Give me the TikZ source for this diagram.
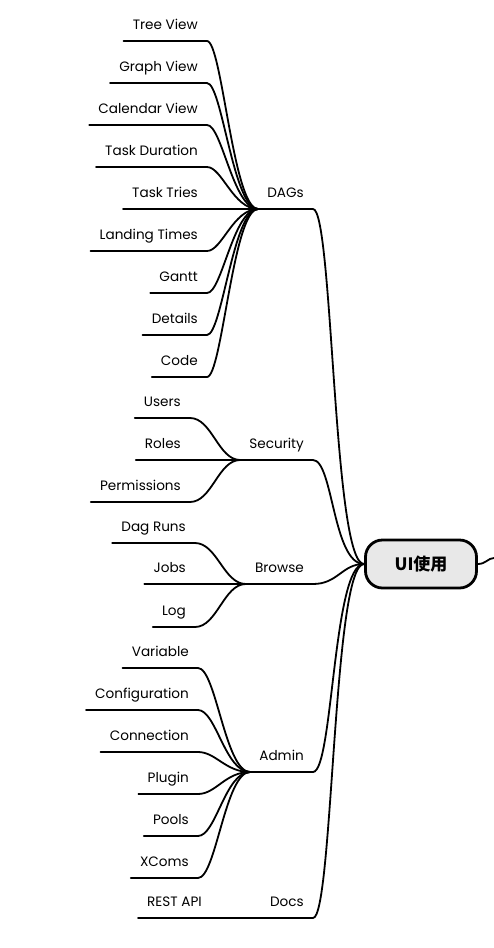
\documentclass[tikz,border=0pt]{standalone}
\usepackage{fontspec}
\setmainfont{Poppins}
\newfontfamily\cjk{Noto Sans CJK SC}
\definecolor{rootgray}{HTML}{E8E8E8}
\begin{document}
\begin{tikzpicture}[x=1pt,y=-1pt,
  every node/.style={font=\fontsize{13.6pt}{16pt}\selectfont},
  lbl/.style={anchor=south east, inner xsep=9pt, inner ysep=8pt, text height=10pt, text depth=3pt},
  uline/.style={line width=1.8pt, line cap=round},
  conn/.style={line width=1.8pt},
  rootbox/.style={draw, line width=2.8pt, fill=rootgray, rounded corners=17pt, minimum width=111pt, minimum height=48pt, inner sep=0pt, font=\fontsize{17pt}{20pt}\selectfont\cjk\bfseries}
]
\useasboundingbox (0,0) rectangle (493,948);
\fill[white] (0,0) rectangle (493,948);

% level-1 nodes
\node[lbl] (dags) at (313,209) {DAGs};
\node[lbl] (sec) at (313,460) {Security};
\node[lbl] (brw) at (313,584) {Browse};
\node[lbl] (adm) at (313,772) {Admin};
\node[lbl] (docs) at (313,918) {Docs};

% DAGs children
\node[lbl] (d1) at (207,41) {Tree View};
\node[lbl] (d2) at (207,83) {Graph View};
\node[lbl] (d3) at (207,125) {Calendar View};
\node[lbl] (d4) at (207,167) {Task Duration};
\node[lbl] (d5) at (207,209) {Task Tries};
\node[lbl] (d6) at (207,251) {Landing Times};
\node[lbl] (d7) at (207,293) {Gantt};
\node[lbl] (d8) at (207,335) {Details};
\node[lbl] (d9) at (207,377) {Code};

% Security children
\node[lbl] (s1) at (190,418) {Users};
\node[lbl] (s2) at (190,460) {Roles};
\node[lbl] (s3) at (190,502) {Permissions};

% Browse children
\node[lbl] (b1) at (195,543) {Dag Runs};
\node[lbl] (b2) at (195,584) {Jobs};
\node[lbl] (b3) at (195,627) {Log};

% Admin children
\node[lbl] (a1) at (198,668) {Variable};
\node[lbl] (a2) at (198,710) {Configuration};
\node[lbl] (a3) at (198,752) {Connection};
\node[lbl] (a4) at (198,794) {Plugin};
\node[lbl] (a5) at (198,836) {Pools};
\node[lbl] (a6) at (198,878) {XComs};

% Docs child
\node[lbl] (r1) at (211,918) {REST API};

% underlines
\foreach \n in {dags,sec,brw,adm,docs,d1,d2,d3,d4,d5,d6,d7,d8,d9,s1,s2,s3,b1,b2,b3,a1,a2,a3,a4,a5,a6,r1}
  \draw[uline] (\n.south west) -- (\n.south east);

% child connectors
\foreach \n in {d1,d2,d3,d4,d5,d6,d7,d8,d9}
  \draw[conn] (\n.south east) .. controls +(15,0) and +(-25,0) .. (dags.south west);
\foreach \n in {s1,s2,s3}
  \draw[conn] (\n.south east) .. controls +(22,0) and +(-22,0) .. (sec.south west);
\foreach \n in {b1,b2,b3}
  \draw[conn] (\n.south east) .. controls +(22,0) and +(-22,0) .. (brw.south west);
\foreach \n in {a1,a2,a3,a4,a5,a6}
  \draw[conn] (\n.south east) .. controls +(18,0) and +(-25,0) .. (adm.south west);
\draw[conn] (r1.south east) -- (docs.south west);

% root
\coordinate (rootin) at (364,564);
\foreach \n in {dags,sec,adm,docs}
  \draw[conn] (\n.south east) .. controls +(20,0) and +(-31,0) .. (rootin);
\draw[conn] (brw.south east) .. controls +(25,0) and +(-22,0) .. (rootin);

\node[rootbox] (root) at (421,564) {UI使用};
\coordinate (out) at (494,558);
\draw[conn] (root.east) .. controls +(8,0) and +(-6,0) .. (out);
\end{tikzpicture}
\end{document}
